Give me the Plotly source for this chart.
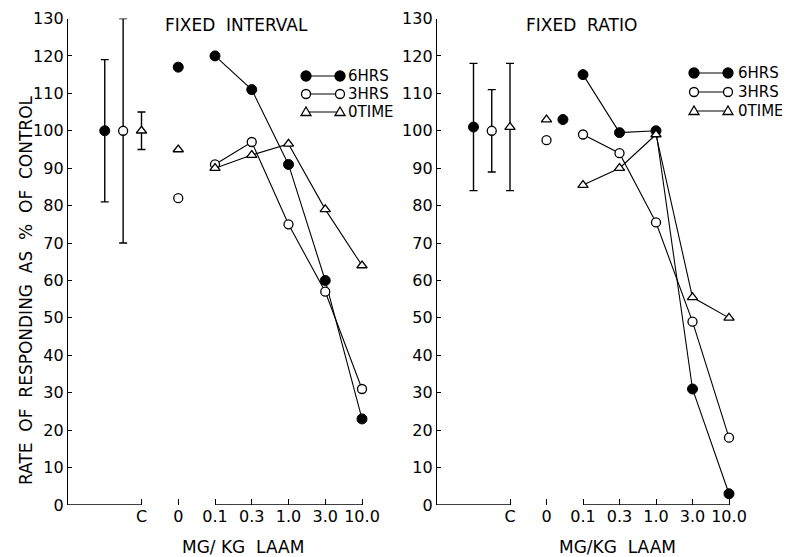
import plotly.graph_objects as go

# page shows the figure offset by the 8px body margin; design in reference pixels
OFF = 8
W, H = 790 - OFF, 557 - OFF

# ---------------- data ----------------
dose_labels = ["C", "0", "0.1", "0.3", "1.0", "3.0", "10.0"]
dose_pos = [-2, -1, 0, 1, 2, 3, 4]          # category slots on the x axis
y_ticks = list(range(0, 131, 10))
series_names = ["6HRS", "3HRS", "0TIME"]

# control means with ranges (6HRS, 3HRS, 0 TIME)
ctrl_pos = [-3, -2.5, -2]

# Fixed interval
fi_ctrl_mean = [100, 100, 100]
fi_ctrl_upper = [119, 130, 105]
fi_ctrl_lower = [81, 70, 95]
fi_saline = [117, 82, 95]
fi_saline_pos = [-1, -1, -1]
fi_6hrs = [120, 111, 91, 60, 23]
fi_3hrs = [91, 97, 75, 57, 31]
fi_0time = [90, 93.5, 96.5, 79, 64]

# Fixed ratio
fr_ctrl_mean = [101, 100, 101]
fr_ctrl_upper = [118, 111, 118]
fr_ctrl_lower = [84, 89, 84]
fr_saline = [103, 97.5, 103]
fr_saline_pos = [-0.55, -1, -1]
fr_6hrs = [115, 99.5, 100, 31, 3]
fr_3hrs = [99, 94, 75.5, 49, 18]
fr_0time = [85.5, 90, 99, 55.5, 50]

FONT = "DejaVu Sans"
styles = [
    dict(symbol="circle", size=10, color="black", line=dict(color="black", width=1)),
    dict(symbol="circle", size=9, color="white", line=dict(color="black", width=1.3)),
    dict(symbol="triangle-up", size=9, color="white", line=dict(color="black", width=1.3)),
]


def PX(px):
    return (px - OFF) / W


def PY(py):
    return 1 - (py - OFF) / H


fig = go.Figure()


def add_panel(xa, ya, ctrl_mean, ctrl_up, ctrl_lo, saline, saline_pos, curves):
    for i in range(3):
        fig.add_trace(go.Scatter(
            x=[ctrl_pos[i]], y=[ctrl_mean[i]], mode="markers", xaxis=xa, yaxis=ya,
            marker=styles[i], showlegend=False, cliponaxis=False,
            error_y=dict(type="data", symmetric=False,
                         array=[ctrl_up[i] - ctrl_mean[i]],
                         arrayminus=[ctrl_mean[i] - ctrl_lo[i]],
                         color="black", thickness=1.4, width=4)))
    for i in range(3):
        fig.add_trace(go.Scatter(
            x=[saline_pos[i]], y=[saline[i]], mode="markers", xaxis=xa, yaxis=ya,
            marker=styles[i], showlegend=False, cliponaxis=False))
    for i, vals in enumerate(curves):
        fig.add_trace(go.Scatter(
            x=dose_pos[2:], y=vals, mode="lines+markers", xaxis=xa, yaxis=ya,
            line=dict(color="black", width=1.1), marker=styles[i],
            showlegend=False, cliponaxis=False))


add_panel("x", "y", fi_ctrl_mean, fi_ctrl_upper, fi_ctrl_lower, fi_saline, fi_saline_pos,
          [fi_6hrs, fi_3hrs, fi_0time])
add_panel("x2", "y2", fr_ctrl_mean, fr_ctrl_upper, fr_ctrl_lower, fr_saline, fr_saline_pos,
          [fr_6hrs, fr_3hrs, fr_0time])

y_dom = [PY(505), PY(18.5)]
tickfont = dict(family=FONT, size=16, color="black")


def xaxis(dom, rng, anchor):
    return dict(domain=dom, range=rng, showgrid=False, zeroline=False, showline=False,
                tickmode="array", tickvals=dose_pos, ticktext=dose_labels,
                ticks="inside", ticklen=6, tickwidth=1.2, tickcolor="black",
                tickfont=tickfont, anchor=anchor, automargin=False)


def yaxis(xanchor):
    return dict(domain=y_dom, range=[0, 130], showgrid=False, zeroline=False,
                showline=True, linecolor="black", linewidth=1.3,
                tickmode="array", tickvals=y_ticks,
                ticks="inside", ticklen=4, tickwidth=1.2, tickcolor="black",
                tickfont=tickfont, anchor=xanchor, automargin=False)


xl = xaxis([PX(68), PX(400)], [-4, -4 + 332 / 36.75], "y")
xr = xaxis([PX(437), PX(788)], [-4, -4 + 351 / 36.5], "y2")

shapes = []
for xref, yref in (("x", "y"), ("x2", "y2")):
    for a, b in ((-4, -2), (0, 4)):
        shapes.append(dict(type="line", xref=xref, yref=yref, x0=a, x1=b, y0=0, y1=0,
                           line=dict(color="black", width=1.3)))

annotations = []


def text(x, y, s, size=16, xanchor="center", angle=0):
    annotations.append(dict(x=PX(x), y=PY(y), xref="paper", yref="paper", text=s,
                            showarrow=False, xanchor=xanchor, yanchor="middle",
                            textangle=angle,
                            font=dict(family=FONT, size=size, color="black")))


def legend_block(x0, rows, tx):
    for i, yp in enumerate(rows):
        ya = PY(yp)
        shapes.append(dict(type="line", xref="paper", yref="paper",
                           x0=PX(x0), x1=PX(x0 + 34), y0=ya, y1=ya,
                           line=dict(color="black", width=1.1)))
        for xp in (x0, x0 + 34):
            base = dict(xref="paper", yref="paper", xsizemode="pixel", ysizemode="pixel",
                        xanchor=PX(xp), yanchor=ya)
            if i == 2:
                shapes.append(dict(base, type="path", path="M -5,-3.5 L 5,-3.5 L 0,5 Z",
                                   fillcolor="white", line=dict(color="black", width=1.3)))
            else:
                r = 5 if i == 0 else 4.5
                shapes.append(dict(base, type="circle", x0=-r, x1=r, y0=-r, y1=r,
                                   fillcolor="black" if i == 0 else "white",
                                   line=dict(color="black", width=1.3)))
        text(tx, yp, series_names[i], size=15, xanchor="left")


legend_block(306, [76, 94, 112], 346)
legend_block(694, [73, 92, 111], 736)

text(236, 25, "FIXED  INTERVAL", size=17)
text(581, 25, "FIXED  RATIO", size=17)
text(243, 547, "MG/ KG  LAAM", size=17)
text(617, 547, "MG/KG  LAAM", size=17)
text(26, 290, "RATE  OF  RESPONDING  AS  %  OF  CONTROL", size=17, angle=-90)

fig.update_layout(
    width=W, height=H, margin=dict(l=0, r=0, t=0, b=0, autoexpand=False),
    paper_bgcolor="white", plot_bgcolor="white", showlegend=False,
    xaxis=xl, yaxis=yaxis("x"), xaxis2=xr, yaxis2=yaxis("x2"),
    shapes=shapes, annotations=annotations,
)

fig.write_html("out.html")
